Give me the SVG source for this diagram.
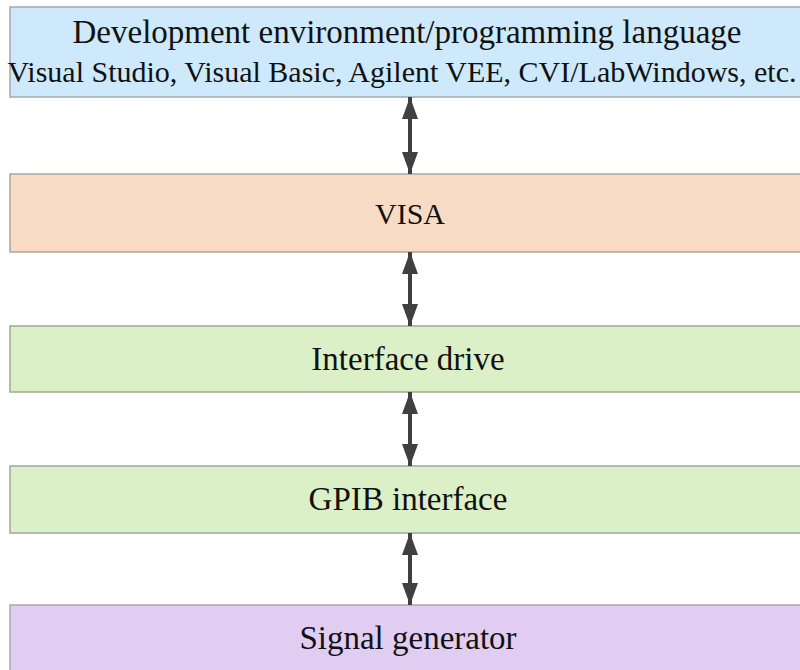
<svg xmlns="http://www.w3.org/2000/svg" width="800" height="670" viewBox="0 0 800 670">
<style>
.box{stroke-width:1.5}
text{font-family:'Liberation Serif','Times New Roman','DejaVu Serif',serif;fill:#111;text-anchor:middle}
.conn{stroke:#404040;stroke-width:4;fill:none}
</style>
<defs>
<marker id="ah" markerUnits="userSpaceOnUse" markerWidth="22" markerHeight="16" refX="22" refY="8" viewBox="0 0 22 16" orient="auto-start-reverse">
<path d="M0,0 L22,8 L0,16 Z" fill="#404040"/>
</marker>
</defs>
<rect width="800" height="670" fill="#fff"/>
<g id="n1"><rect class="box" x="10" y="7" width="800" height="90" fill="#cde9fb" stroke="#a6a8aa"/>
<text x="407" y="43" font-size="33">Development environment/programming language</text>
<text x="402" y="82" font-size="30">Visual Studio, Visual Basic, Agilent VEE, CVI/LabWindows, etc.</text></g>
<g id="n2"><rect class="box" x="10" y="174" width="800" height="78" fill="#f8dbc5" stroke="#aaa6a2"/>
<text x="410" y="224" font-size="30">VISA</text></g>
<g id="n3"><rect class="box" x="10" y="326" width="800" height="66" fill="#dcf0c8" stroke="#9ea898"/>
<text x="408" y="370" font-size="33">Interface drive</text></g>
<g id="n4"><rect class="box" x="10" y="466" width="800" height="67" fill="#dcf0c8" stroke="#9ea898"/>
<text x="408" y="510" font-size="33">GPIB interface</text></g>
<g id="n5"><rect class="box" x="10" y="605" width="800" height="70" fill="#e1cdf1" stroke="#aaa6ae"/>
<text x="408" y="649" font-size="33">Signal generator</text></g>
<g id="connectors">
<line class="conn" x1="410" y1="97" x2="410" y2="174" marker-start="url(#ah)" marker-end="url(#ah)"/>
<line class="conn" x1="410" y1="252" x2="410" y2="326" marker-start="url(#ah)" marker-end="url(#ah)"/>
<line class="conn" x1="410" y1="392" x2="410" y2="466" marker-start="url(#ah)" marker-end="url(#ah)"/>
<line class="conn" x1="410" y1="533" x2="410" y2="605" marker-start="url(#ah)" marker-end="url(#ah)"/>
</g>
</svg>
